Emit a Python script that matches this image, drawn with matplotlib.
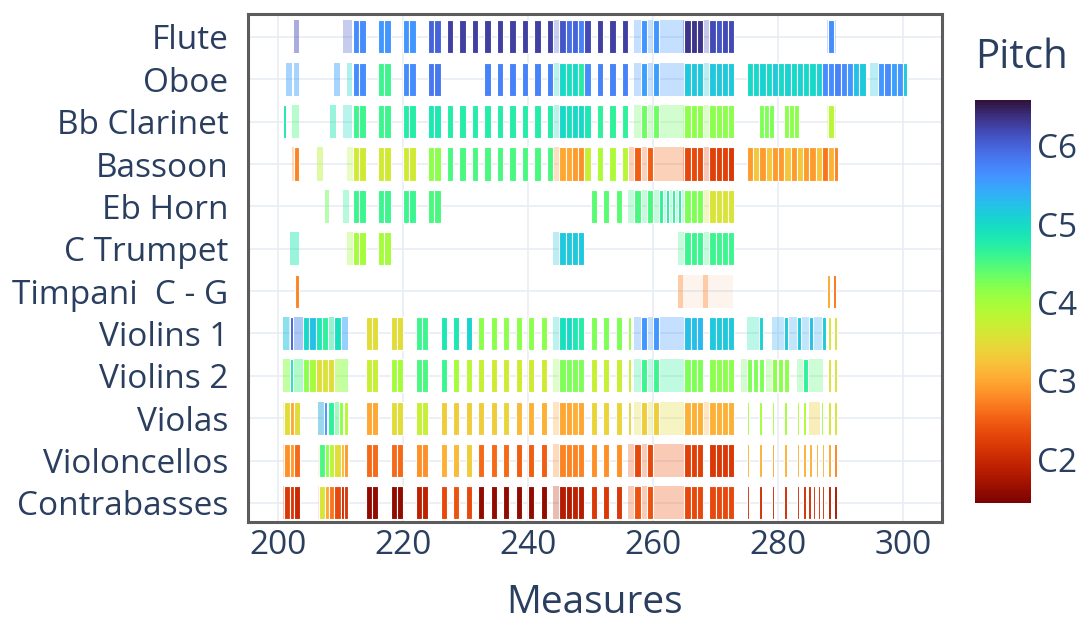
"""
Orchestral piano-roll: notes per instrument over measures 200-300,
coloured by pitch (turbo, low = dark red, high = indigo).
"""

import matplotlib
matplotlib.use("Agg")
import matplotlib.pyplot as plt
from matplotlib.colors import Normalize

# ---------------------------------------------------------------------------
# Data  --  notes are (start measure, length in measures, MIDI pitch)
#           *_SOFT notes are held / quiet notes: (start, length, pitch, opacity)
# ---------------------------------------------------------------------------
INSTRUMENTS = ["Flute", "Oboe", "Bb Clarinet", "Bassoon", "Eb Horn", "C Trumpet",
               "Timpani  C - G", "Violins 1", "Violins 2", "Violas",
               "Violoncellos", "Contrabasses"]

FLUTE = [
    (212, 1, 80), (213, 1, 80), (216, 1, 79), (217, 1, 79), (220, 1, 79), (221, 1, 79),
    (224, 1, 84), (225, 1, 84), (227, 1, 87), (229, 1, 87), (231, 1, 87), (233, 1, 87),
    (235, 1, 87), (237, 1, 87), (239, 1, 87), (241, 1, 87), (243, 1, 87),
    (245, 1, 85), (246, 1, 83), (247, 1, 84), (248, 1, 81), (249, 1, 86),
    (251, 1, 87), (253, 1, 87), (255, 1, 87), (258, 1, 79), (260, 1, 79),
    (265, 1, 88), (266, 1, 88), (267, 1, 88), (269, 1, 86), (270, 1, 85), (271, 1, 86),
    (272, 1, 86), (288, 1, 80),
]
FLUTE_SOFT = [(202.5, 0.9, 86, 0.45), (210.4, 1.4, 85, 0.3), (244, 6, 84, 0.3),
              (257, 8, 79, 0.3), (264.8, 3, 87, 0.3), (268, 5, 86, 0.3),
              (287.8, 1.5, 80, 0.3)]

OBOE = [
    (212, 1, 80), (213, 1, 80), (216, 1, 67), (217, 1, 67), (220, 1, 80), (221, 1, 80),
    (224, 1, 82), (225, 1, 82), (233, 1, 81), (235, 1, 81), (237, 1, 81), (239, 1, 81),
    (241, 1, 81), (243, 1, 81), (245, 1, 72), (246, 1, 71), (247, 1, 72), (248, 1, 69),
    (249, 1, 80), (251, 1, 81), (253, 1, 81), (255, 1, 81), (258, 1, 78), (260, 1, 78),
    (265, 1, 74), (266, 1, 74), (267, 1, 74), (269, 1, 74), (270, 1, 74), (271, 1, 74),
    (272, 1, 74), (275, 1, 72), (276, 1, 72), (277, 1, 73), (278, 1, 72), (279, 1, 74),
    (280, 1, 72), (281, 1, 73), (282, 1, 72), (283, 1, 73), (284, 1, 72), (285, 1, 72),
    (286, 1, 73), (287, 1, 80), (288, 1, 80), (289, 1, 81), (290, 1, 80), (291, 1, 79),
    (292, 1, 75), (293, 1, 74), (296, 1, 79), (297, 1, 80), (298, 1, 78), (299, 1, 79),
    (300, 0.6, 74),
]
OBOE_SOFT = [(201.3, 0.9, 78, 0.45), (202.5, 0.9, 78, 0.45), (209, 0.9, 78, 0.45),
             (211, 0.9, 72, 0.35), (244, 6, 72, 0.3), (257, 8, 79, 0.3),
             (268, 5, 74, 0.3), (294.7, 1.2, 74, 0.3)]

CLARINET = [
    (200.8, 0.5, 70), (212, 1, 67), (213, 1, 67), (216, 1, 67), (217, 1, 67),
    (220, 1, 69), (221, 1, 69), (224, 1, 70), (225, 1, 70), (227, 1, 69), (229, 1, 69),
    (231, 1, 69), (233, 1, 69), (235, 1, 69), (237, 1, 69), (239, 1, 69), (241, 1, 69),
    (243, 1, 69), (245, 1, 72), (246, 1, 71), (247, 1, 72), (248, 1, 72), (249, 1, 70),
    (251, 1, 68), (253, 1, 68), (255, 1, 68), (258, 1, 64), (260, 1, 64),
    (265, 1, 62), (266, 1, 62), (267, 1, 62), (269, 1, 62), (270, 1, 62), (271, 1, 62),
    (272, 1, 62), (277, 0.8, 63), (277.8, 0.8, 63), (278.6, 0.8, 63),
    (281, 0.8, 62), (281.8, 0.8, 62), (282.6, 0.8, 62), (288, 1, 58),
]
CLARINET_SOFT = [(202.2, 1.2, 66, 0.4), (208.3, 1, 70, 0.45), (210.4, 1.4, 72, 0.3),
                 (244, 6, 72, 0.3), (257, 8, 64, 0.3), (264.8, 8, 62, 0.3),
                 (287.8, 1.5, 58, 0.3)]

BASSOON = [
    (202.6, 0.8, 45), (212, 1, 56), (213, 1, 56), (216, 1, 56), (217, 1, 56),
    (220, 1, 56), (221, 1, 56), (224, 1, 62), (225, 1, 62), (227, 1, 66), (229, 1, 66),
    (231, 1, 66), (233, 1, 66), (235, 1, 66), (237, 1, 66), (239, 1, 66), (241, 1, 66),
    (243, 1, 66), (245, 1, 48), (246, 1, 48), (247, 1, 47), (248, 1, 46), (249, 1, 57),
    (251, 1, 59), (253, 1, 59), (255, 1, 58), (257, 1, 42), (259, 1, 42),
    (265, 1, 40), (266, 1, 40), (267, 1, 40), (269, 1, 39), (270, 1, 39), (271, 1, 39),
    (272, 1, 38), (275, 1, 47), (276, 1, 51), (277, 1, 47), (278, 1, 51), (279, 1, 47),
    (280, 1, 47), (281, 1, 51), (282, 1, 47), (283, 1, 51), (284, 1, 47), (285, 1, 47),
    (286, 1, 51), (287, 1, 44), (288, 1, 49), (289, 0.5, 45),
]
BASSOON_SOFT = [(202.3, 1.2, 45, 0.3), (206.2, 1, 58, 0.45), (211, 1, 58, 0.3),
                (244, 6, 47, 0.3), (256, 9, 43, 0.3), (264.8, 8, 40, 0.3)]

HORN = [
    (212, 1, 67), (213, 1, 67), (216, 1, 67), (217, 1, 67), (220, 1, 67), (221, 1, 67),
    (224, 1, 66), (225, 1, 66), (250, 1, 65), (252, 1, 65), (254, 1, 65), (257, 1, 66),
    (259, 1, 66), (261, 0.5, 68), (262, 0.5, 69), (263, 0.5, 68), (264, 0.5, 69),
    (265, 1, 63), (266, 1, 63), (267, 1, 63), (269, 1, 55), (270, 1, 55), (271, 1, 55),
    (272, 1, 55),
]
HORN_SOFT = [(207.5, 0.7, 64, 0.5), (210.4, 1, 68, 0.35), (256, 9, 67, 0.3),
             (268, 5, 55, 0.3)]

TRUMPET = [
    (212, 1, 60), (213, 1, 60), (216, 1, 60), (217, 1, 60), (245, 1, 74), (246, 1, 74),
    (247, 1, 74), (248, 1, 74), (265, 1, 67), (266, 1, 67), (267, 1, 67), (269, 1, 67),
    (270, 1, 67), (271, 1, 67), (272, 1, 67),
]
TRUMPET_SOFT = [(202, 1.4, 70, 0.45), (211, 1, 60, 0.35), (244, 4.8, 74, 0.3),
                (264, 8.8, 67, 0.3)]

TIMPANI = [(202.7, 0.6, 45), (287.8, 0.5, 48), (288.8, 0.5, 44)]
TIMPANI_SOFT = [(264, 8.8, 43, 0.07), (264, 0.7, 45, 0.35), (268, 0.7, 45, 0.35)]

VIOLINS1 = [
    (202, 0.4, 84), (204, 1, 72), (205, 1, 75), (206, 1, 70), (207, 1, 68), (209, 1, 71),
    (214, 1, 54), (215, 1, 54), (218, 1, 54), (219, 1, 54), (222, 1, 67), (223, 1, 67),
    (226, 1, 70), (228, 1, 70), (230, 1, 73), (232, 1, 62), (234, 1, 62), (236, 1, 62),
    (238, 1, 62), (240, 1, 62), (242, 1, 62), (245, 1, 71), (246, 1, 72), (247, 1, 70),
    (248, 1, 69), (250, 1, 63), (252, 1, 63), (254, 1, 63), (256, 0.5, 61),
    (258, 1, 79), (260, 1, 79), (265, 1, 75), (266, 1, 75), (267, 1, 76), (269, 1, 74),
    (270, 1, 74), (271, 1, 74), (272, 1, 74), (277, 0.6, 73), (281, 0.6, 74),
    (283, 0.6, 74), (285, 0.6, 75), (287, 0.6, 74), (288, 0.4, 55), (289, 0.4, 55),
]
VIOLINS1_SOFT = [(200.8, 10.4, 76, 0.2), (200.8, 1, 74, 0.4), (202.4, 1.6, 83, 0.3),
                 (208, 1, 67, 0.4), (210, 1.2, 78, 0.4), (244, 5, 72, 0.3),
                 (257, 8, 79, 0.3), (275, 2.4, 70, 0.3), (279, 8.2, 77, 0.3)]

VIOLINS2 = [
    (202, 0.4, 70), (204, 1, 62), (205, 1, 60), (206, 1, 54), (207, 1, 55), (208, 1, 54),
    (214, 1, 57), (215, 1, 57), (218, 1, 60), (219, 1, 60), (222, 1, 66), (223, 1, 66),
    (226, 1, 67), (228, 1, 60), (230, 1, 58), (232, 1, 57), (234, 1, 56), (236, 1, 56),
    (238, 1, 56), (240, 1, 56), (242, 1, 56), (245, 1, 63), (246, 1, 63), (247, 1, 63),
    (248, 1, 63), (250, 1, 57), (252, 1, 57), (254, 1, 57), (256, 0.5, 57),
    (258, 1, 67), (260, 1, 67), (265, 1, 63), (266, 1, 63), (267, 1, 63), (269, 1, 62),
    (270, 1, 62), (271, 1, 62), (272, 1, 62), (275, 0.8, 63), (276, 0.8, 63),
    (277, 0.8, 63), (279, 0.8, 62), (280, 0.8, 62), (281, 0.8, 62), (284, 0.8, 68),
    (288, 0.4, 55), (289, 0.4, 55),
]
VIOLINS2_SOFT = [(200.8, 10.4, 62, 0.2), (200.8, 1.2, 62, 0.4), (202.4, 1.6, 68, 0.3),
                 (209, 1, 60, 0.4), (210, 1.2, 62, 0.4), (244, 5, 62, 0.3),
                 (257, 8, 68, 0.3), (274, 3.4, 64, 0.3), (278, 3.5, 63, 0.3),
                 (283, 4.2, 65, 0.3)]

VIOLAS = [
    (201, 1, 54), (202, 0.5, 48), (202.6, 0.9, 54), (207.3, 0.6, 79), (208, 1, 68),
    (209.8, 0.6, 62), (210.5, 0.7, 58), (214, 1, 48), (215, 1, 48), (218, 1, 54),
    (219, 1, 54), (222, 1, 57), (223, 1, 57), (226, 1, 52), (228, 1, 52), (230, 1, 52),
    (232, 1, 52), (234, 1, 52), (236, 1, 53), (238, 1, 50), (240, 1, 49), (242, 1, 49),
    (245, 1, 48), (246, 1, 48), (247, 1, 49), (248, 1, 48), (250, 1, 53), (252, 1, 53),
    (254, 1, 53), (256, 0.5, 53), (258, 1, 52), (260, 1, 52), (265, 1, 49), (266, 1, 49),
    (267, 1, 49), (269, 1, 49), (270, 1, 49), (271, 1, 49), (272, 1, 49),
    (275, 0.4, 60), (277, 0.4, 60), (279, 0.4, 60), (281, 0.4, 60), (283, 0.4, 59),
    (284, 0.4, 59), (286.8, 0.4, 60), (288, 0.4, 55), (289, 0.4, 55),
]
VIOLAS_SOFT = [(200.8, 2.7, 54, 0.3), (206.4, 4.8, 66, 0.2), (206.4, 1, 78, 0.4),
               (209, 1, 66, 0.4), (244, 5, 48, 0.3), (257, 8, 54, 0.3),
               (268, 5, 49, 0.3), (285, 1.7, 52, 0.35)]

CELLOS = [
    (201, 1, 46), (202, 0.6, 47), (202.6, 0.9, 43), (206.5, 1, 66), (207.5, 0.7, 62),
    (208.2, 0.8, 58), (209, 1, 54), (210, 0.5, 50), (210.5, 0.7, 47),
    (214, 1, 43), (215, 1, 43), (218, 1, 43), (219, 1, 43), (222, 1, 46), (223, 1, 46),
    (226, 1, 49), (228, 1, 50), (230, 1, 52), (232, 1, 43), (234, 1, 43), (236, 1, 43),
    (238, 1, 42), (240, 1, 42), (242, 1, 42), (245, 1, 45), (246, 1, 45), (247, 1, 45),
    (248, 1, 45), (250, 1, 46), (252, 1, 46), (254, 1, 46), (257, 1, 40), (259, 1, 40),
    (265, 1, 39), (266, 1, 39), (267, 1, 39), (269, 1, 38), (270, 1, 38), (271, 1, 38),
    (272, 1, 38), (275, 0.4, 49), (277, 0.4, 49), (279, 0.4, 48), (281, 0.4, 49),
    (283, 0.4, 49), (284, 0.4, 49), (285, 0.4, 49), (286, 0.4, 49), (287, 0.4, 49),
    (288, 0.4, 48), (289, 0.4, 45),
]
CELLOS_SOFT = [(200.8, 2.7, 46, 0.3), (206.4, 4.8, 58, 0.2), (244, 5, 45, 0.3),
               (256, 9, 41, 0.3)]

BASSES = [
    (201, 1, 38), (202, 0.6, 38), (202.6, 0.9, 36), (206.5, 1, 55), (207.5, 0.7, 48),
    (208.2, 0.8, 44), (209, 1, 40), (210, 0.6, 36), (210.6, 0.6, 38),
    (214, 1, 31), (215, 1, 31), (218, 1, 31), (219, 1, 31), (222, 1, 35), (223, 1, 35),
    (226, 1, 40), (228, 1, 41), (230, 1, 40), (232, 1, 31), (234, 1, 31), (236, 1, 31),
    (238, 1, 31), (240, 1, 31), (242, 1, 31), (245, 1, 34), (246, 1, 34), (247, 1, 35),
    (248, 1, 34), (250, 1, 38), (252, 1, 38), (254, 1, 38), (257, 1, 41), (259, 1, 41),
    (265, 1, 40), (266, 1, 40), (267, 1, 40), (269, 1, 40), (270, 1, 40), (271, 1, 40),
    (272, 1, 40), (275, 0.4, 37), (277, 0.4, 37), (279, 0.4, 36), (281, 0.4, 37),
    (283, 0.4, 37), (284, 0.4, 37), (284.8, 0.4, 37), (285.5, 0.4, 37), (286.3, 0.4, 37),
    (287, 0.4, 37), (288, 0.4, 35), (289, 0.4, 33),
]
BASSES_SOFT = [(200.8, 2.7, 37, 0.3), (206.4, 4.8, 45, 0.2), (244, 5, 35, 0.3),
               (256, 9, 41, 0.3)]

PARTS = [FLUTE, OBOE, CLARINET, BASSOON, HORN, TRUMPET, TIMPANI,
         VIOLINS1, VIOLINS2, VIOLAS, CELLOS, BASSES]
PARTS_SOFT = [FLUTE_SOFT, OBOE_SOFT, CLARINET_SOFT, BASSOON_SOFT, HORN_SOFT,
              TRUMPET_SOFT, TIMPANI_SOFT, VIOLINS1_SOFT, VIOLINS2_SOFT,
              VIOLAS_SOFT, CELLOS_SOFT, BASSES_SOFT]

PITCH_TICKS = [36, 48, 60, 72, 84]
PITCH_LABELS = ["C2", "C3", "C4", "C5", "C6"]
MEASURE_TICKS = [200, 220, 240, 260, 280, 300]

# ---------------------------------------------------------------------------
# Style
# ---------------------------------------------------------------------------
TEXT = "#2a3f5f"
GRID = "#e8edf5"
plt.rcParams["font.family"] = ["Open Sans", "DejaVu Sans"]

cmap = plt.get_cmap("turbo_r")
norm = Normalize(vmin=29.3, vmax=91)
BAR_H = 0.78

fig = plt.figure(figsize=(10.81, 6.26), dpi=100)
ax = fig.add_axes([0.2294, 0.1661, 0.6420, 0.8115])

n = len(INSTRUMENTS)
for i, (notes, soft) in enumerate(zip(PARTS, PARTS_SOFT)):
    y = n - 1 - i
    for start, dur, pitch, op in soft:
        ax.bar(start, BAR_H, width=dur, bottom=y - BAR_H / 2, align="edge",
               color=cmap(norm(pitch)), alpha=op, linewidth=0, zorder=2)
    for start, dur, pitch in notes:
        ax.bar(start, BAR_H, width=dur, bottom=y - BAR_H / 2, align="edge",
               color=cmap(norm(pitch)), edgecolor="white", linewidth=0.8, zorder=3)

ax.set_xlim(195.2, 306.2)
ax.set_ylim(-0.45, 11.54)
ax.set_xticks(MEASURE_TICKS)
ax.set_yticks(range(n))
ax.set_yticklabels(INSTRUMENTS[::-1])
ax.tick_params(length=0, labelsize=24, labelcolor=TEXT)
ax.tick_params(axis="y", pad=14)
ax.tick_params(axis="x", pad=5)
ax.grid(True, color=GRID, linewidth=1.2, zorder=0)
ax.set_axisbelow(True)
for side in ax.spines.values():
    side.set_color("#5c5c5c")
    side.set_linewidth(2.2)

# axis title placed in figure coords so it stays inside the canvas
fig.text(0.5504, 0.006, "Measures", fontsize=28, color=TEXT, ha="center", va="bottom")

# colour bar
cax = fig.add_axes([0.902, 0.1965, 0.0518, 0.6438])
sm = plt.cm.ScalarMappable(norm=norm, cmap=cmap)
cb = fig.colorbar(sm, cax=cax, ticks=PITCH_TICKS)
cb.set_ticklabels(PITCH_LABELS)
cb.outline.set_visible(False)
cax.tick_params(length=0, labelsize=24, labelcolor=TEXT, pad=4)
fig.text(0.945, 0.908, "Pitch", fontsize=29, color=TEXT, ha="center", va="center")

fig.savefig("out.png", dpi=100)
